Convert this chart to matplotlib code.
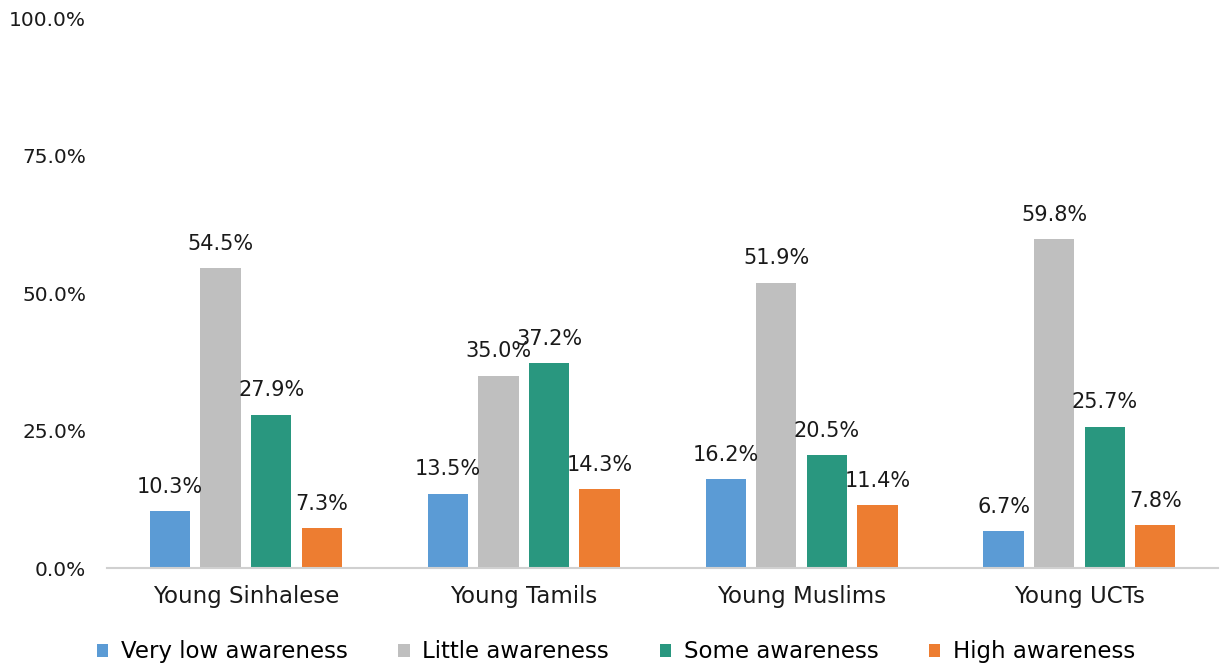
import matplotlib.pyplot as plt
import numpy as np
from matplotlib.ticker import FuncFormatter

groups = ['Young Sinhalese', 'Young Tamils', 'Young Muslims', 'Young UCTs']
series = ['Very low awareness', 'Little awareness', 'Some awareness', 'High awareness']
very_low = [10.3, 13.5, 16.2, 6.7]
little = [54.5, 35.0, 51.9, 59.8]
some = [27.9, 37.2, 20.5, 25.7]
high = [7.3, 14.3, 11.4, 7.8]
colors = ['#5B9BD5', '#BFBFBF', '#29977F', '#ED7D31']

plt.rcParams['font.family'] = ['DejaVu Sans']

fig = plt.figure(figsize=(12.2, 6.67), dpi=100)
ax = fig.add_axes([0.0877, 0.1484, 0.911, 0.8246])

x = np.arange(len(groups))
width = 0.145
step = 0.182
values = [very_low, little, some, high]
for i, (name, vals, c) in enumerate(zip(series, values, colors)):
    pos = x + (i - 1.5) * step
    bars = ax.bar(pos, vals, width, color=c, label=name)
    for b, v in zip(bars, vals):
        ax.text(b.get_x() + b.get_width() / 2, v + 2.6, f'{v:.1f}%',
                ha='center', va='bottom', fontsize=15, color='#1a1a1a')

ax.set_xlim(-0.5, 3.5)
ax.set_ylim(0, 100)
ax.set_yticks([0, 25, 50, 75, 100])
ax.yaxis.set_major_formatter(FuncFormatter(lambda v, p: f'{v:.1f}%'))
ax.set_xticks(x)
ax.set_xticklabels(groups)
ax.tick_params(axis='both', length=0, colors='#1a1a1a')
ax.tick_params(axis='y', pad=15, labelsize=14.5)
ax.tick_params(axis='x', pad=12, labelsize=16.5)
for s in ['top', 'right', 'left']:
    ax.spines[s].set_visible(False)
ax.spines['bottom'].set_color('#D0D0D0')
ax.spines['bottom'].set_linewidth(1.5)

leg = fig.legend(loc='center', bbox_to_anchor=(0.505, 0.0225), ncol=4,
                 frameon=False, fontsize=16.5, handlelength=0.5, handleheight=0.5,
                 columnspacing=2.2, handletextpad=0.55, borderpad=0)

plt.savefig('out.png', dpi=100)
